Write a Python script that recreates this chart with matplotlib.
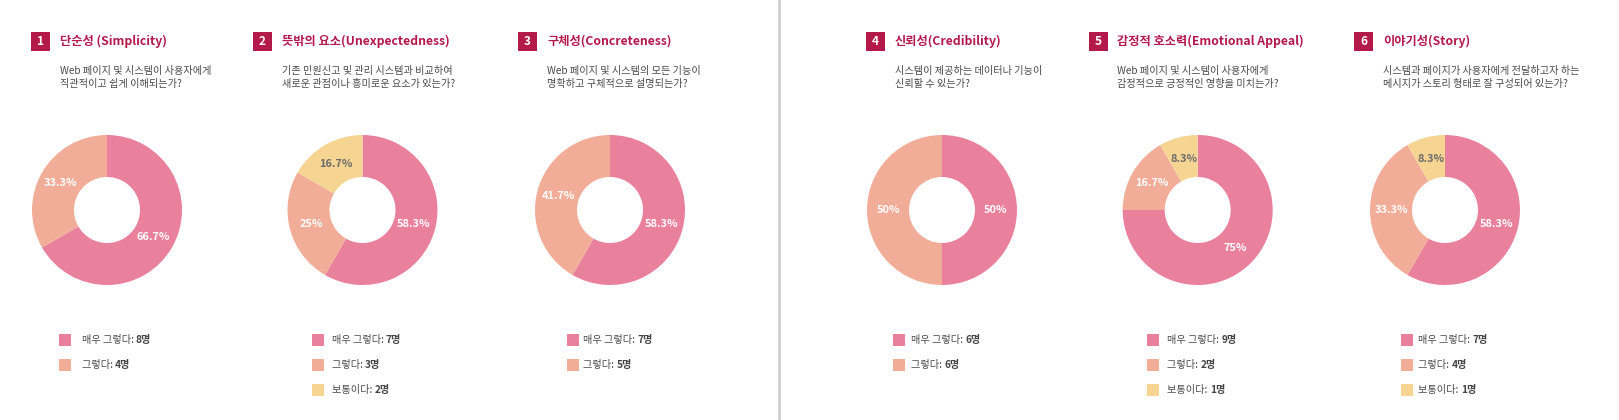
import numpy as np
import matplotlib
matplotlib.use("Agg")
import matplotlib.pyplot as plt
from matplotlib.patches import Rectangle

plt.rcParams['font.family'] = ['Noto Sans CJK KR', 'DejaVu Sans']

W, H = 1619, 420

# data
titles = ["단순성 (Simplicity)", "뜻밖의 요소(Unexpectedness)", "구체성(Concreteness)",
          "신뢰성(Credibility)", "감정적 호소력(Emotional Appeal)", "이야기성(Story)"]
questions = [
    ["Web 페이지 및 시스템이 사용자에게", "직관적이고 쉽게 이해되는가?"],
    ["기존 민원신고 및 관리 시스템과 비교하여", "새로운 관점이나 흥미로운 요소가 있는가?"],
    ["Web 페이지 및 시스템의 모든 기능이", "명확하고 구체적으로 설명되는가?"],
    ["시스템이 제공하는 데이터나 기능이", "신뢰할 수 있는가?"],
    ["Web 페이지 및 시스템이 사용자에게", "감정적으로 긍정적인 영향을 미치는가?"],
    ["시스템과 페이지가 사용자에게 전달하고자 하는", "메시지가 스토리 형태로 잘 구성되어 있는가?"],
]
answer_labels = ["매우 그렇다", "그렇다", "보통이다"]
counts = [
    [8, 4],
    [7, 3, 2],
    [7, 5],
    [6, 6],
    [9, 2, 1],
    [7, 4, 1],
]

colors = ["#E9819C", "#F2AD98", "#F6D492"]
pct_colors = ["white", "white", "#6b6b6b"]
crimson = "#B3194B"

# layout (pixels)
donut_cx = [107, 362.5, 610, 942, 1197.7, 1445]
donut_cy = 210
donut_r = 75
badge_x = [31, 253, 518, 866, 1089, 1354]
title_x = [60, 282, 547, 895, 1117, 1383]
leg_sq_x = [58.7, 312, 567, 893, 1147, 1401]
leg_tx_x = [81.6, 331.6, 583, 911, 1167, 1418]
leg_y = [340, 365, 390]

fig = plt.figure(figsize=(W / 100, H / 100), dpi=100)
fig.patch.set_facecolor("white")


def fx(x):
    return x / W


def fy(y):
    return 1 - y / H


# divider
fig.add_artist(plt.Line2D([fx(779), fx(779)], [0, 1], color="#cccccc", lw=1.8))

renderer = fig.canvas.get_renderer()

for i, vals in enumerate(counts):
    # badge + title
    fig.add_artist(Rectangle((fx(badge_x[i]), fy(51)), 19 / W, 19 / H,
                             facecolor=crimson, edgecolor="none"))
    fig.text(fx(badge_x[i] + 9.5), fy(41.5), str(i + 1), color="white",
             fontsize=8.5, fontweight="bold", ha="center", va="center")
    fig.text(fx(title_x[i]), fy(41.5), titles[i], color=crimson,
             fontsize=8.8, fontweight="bold", ha="left", va="center")
    for j, line in enumerate(questions[i]):
        fig.text(fx(title_x[i]), fy(71 + j * 13), line, color="#4a4a4a",
                 fontsize=7.3, ha="left", va="center")

    # donut
    ax = fig.add_axes([fx(donut_cx[i] - donut_r), fy(donut_cy + donut_r),
                       2 * donut_r / W, 2 * donut_r / H])
    total = sum(vals)
    pcts = [f"{v / total * 100:.1f}".rstrip("0").rstrip(".") + "%" for v in vals]
    wedges, _ = ax.pie(vals, colors=colors[:len(vals)], startangle=90,
                       counterclock=False, radius=1,
                       wedgeprops=dict(width=0.56, linewidth=0))
    for k, w in enumerate(wedges):
        ang = np.deg2rad((w.theta1 + w.theta2) / 2)
        ax.text(0.71 * np.cos(ang), 0.71 * np.sin(ang), pcts[k],
                color=pct_colors[k], fontsize=7.9, fontweight="bold",
                ha="center", va="center")
    ax.set_xlim(-1, 1)
    ax.set_ylim(-1, 1)
    ax.set_aspect("equal")
    ax.axis("off")

    # legend
    for k, v in enumerate(vals):
        y = leg_y[k]
        fig.add_artist(Rectangle((fx(leg_sq_x[i]), fy(y + 6)), 12 / W, 12 / H,
                                 facecolor=colors[k], edgecolor="none"))
        t = fig.text(fx(leg_tx_x[i]), fy(y), f"{answer_labels[k]}: ",
                     color="#4a4a4a", fontsize=7.3, ha="left", va="center")
        bb = t.get_window_extent(renderer)
        fig.text(bb.x1 / W, fy(y), f"{v}명", color="#444444",
                 fontsize=7.3, fontweight="bold", ha="left", va="center")

fig.savefig("out.png", dpi=100, facecolor="white")
